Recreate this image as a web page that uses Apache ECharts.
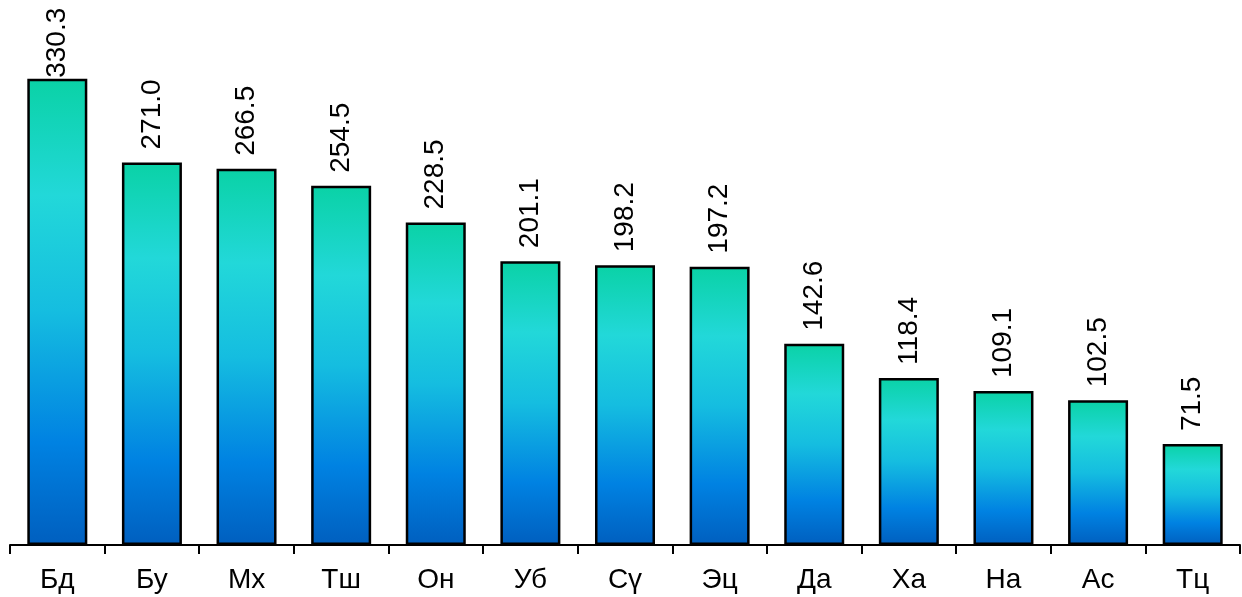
<!DOCTYPE html>
<html><head><meta charset="utf-8">
<script src="https://cdn.jsdelivr.net/npm/echarts@6/dist/echarts.min.js"></script>
<style>html,body{margin:0;padding:0;background:#fff}#c{width:1242px;height:597px}</style>
</head><body><div id="c"></div>
<script>
var categories = ['Бд','Бу','Мх','Тш','Он','Уб','Сү','Эц','Да','Ха','На','Ас','Тц'];
var values = [330.3,271.0,266.5,254.5,228.5,201.1,198.2,197.2,142.6,118.4,109.1,102.5,71.5];

var chart = echarts.init(document.getElementById('c'));
var grad = new echarts.graphic.LinearGradient(0,0,0,1,[
  {offset:0,color:'#0ad2a6'},
  {offset:0.25,color:'#22d8d9'},
  {offset:0.5,color:'#15bde0'},
  {offset:0.78,color:'#0082e2'},
  {offset:1,color:'#005fbf'}
]);
chart.setOption({
  animation:false,
  grid:{left:10,right:2,top:51,bottom:52},
  xAxis:{type:'category',data:categories,
    axisLine:{lineStyle:{color:'#000',width:2}},
    axisTick:{show:true,length:9,lineStyle:{color:'#000',width:2}},
    axisLabel:{color:'#000',fontSize:28,fontFamily:'Liberation Sans, Arial',margin:21}},
  yAxis:{type:'value',min:0,max:350,show:false,splitLine:{show:false}},
  series:[{type:'bar',
    data:values.map(function(v,i){
      var d={value:v};
      if(i===0) d.label={distance:1};
      return d;}),
    barWidth:60,
    itemStyle:{color:grad,borderColor:'#000',borderWidth:2.5},
    label:{show:true,position:'top',rotate:90,distance:13,align:'left',verticalAlign:'middle',
      color:'#000',fontSize:28,fontFamily:'Liberation Sans, Arial',
      formatter:function(p){return p.value.toFixed(1);}}
  }]
});
</script></body></html>
